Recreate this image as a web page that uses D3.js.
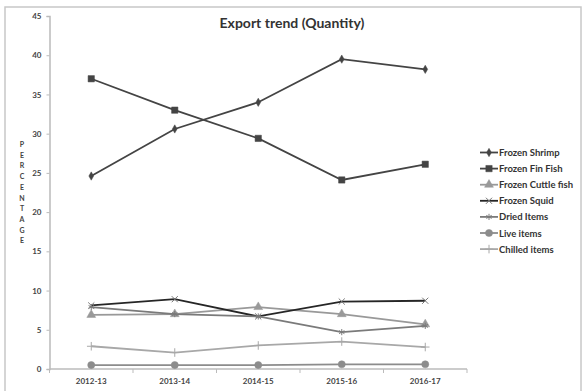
<!DOCTYPE html>
<html>
<head>
<meta charset="utf-8">
<script src="https://cdn.jsdelivr.net/npm/d3@7"></script>
<style>
  html, body { margin: 0; padding: 0; background: #fff; }
  svg { display: block; font-family: Lato, 'Open Sans', sans-serif; }
</style>
</head>
<body>
<div id="chart"></div>
<script>
// Export trend (Quantity) - line chart, percentage share per item by year.

const years = ['2012-13', '2013-14', '2014-15', '2015-16', '2016-17'];
const yTicks = [0, 5, 10, 15, 20, 25, 30, 35, 40, 45];

const frozenShrimp  = [24.6, 30.6, 34.0, 39.5, 38.2];
const frozenFinFish = [37.0, 33.0, 29.4, 24.1, 26.1];
const frozenCuttle  = [6.9, 7.0, 7.9, 7.0, 5.7];
const frozenSquid   = [8.1, 8.9, 6.7, 8.6, 8.7];
const driedItems    = [7.9, 7.0, 6.7, 4.7, 5.5];
const liveItems     = [0.5, 0.5, 0.5, 0.6, 0.6];
const chilledItems  = [2.9, 2.1, 3.0, 3.5, 2.8];

const seriesNames = ['Frozen Shrimp', 'Frozen Fin Fish', 'Frozen Cuttle fish', 'Frozen Squid', 'Dried Items', 'Live items', 'Chilled items'];
const seriesValues = [frozenShrimp, frozenFinFish, frozenCuttle, frozenSquid, driedItems, liveItems, chilledItems];

// styling per series (colour, marker, marker size, filled or stroked marker)
const STYLE = [
  { color: '#444', sym: d3.symbolDiamond,  size: 20, fill: true },
  { color: '#444', sym: d3.symbolSquare,   size: 40, fill: true },
  { color: '#999', sym: d3.symbolTriangle, size: 34, fill: true },
  { color: '#262626', sym: d3.symbolTimes, size: 26, fill: false, mcolor: '#777' },
  { color: '#7a7a7a', sym: d3.symbolAsterisk, size: 26, fill: false },
  { color: '#8c8c8c', sym: d3.symbolCircle, size: 40, fill: true },
  { color: '#a8a8a8', sym: d3.symbolPlus,   size: 26, fill: false },
];

const W = 587, H = 391;
const M = { left: 49.5, top: 16 };
const plotR = 467, plotB = 369;

const svg = d3.select('#chart').append('svg')
  .attr('width', W).attr('height', H);

// outer chart frame
svg.append('rect')
  .attr('x', 5).attr('y', 7).attr('width', 576).attr('height', 390)
  .attr('fill', 'none').attr('stroke', '#c8c8c8').attr('stroke-width', 1.5);

const x = d3.scalePoint().domain(years).range([M.left, plotR]).padding(0.5);
const xBand = d3.scaleBand().domain(years).range([M.left, plotR]);
const y = d3.scaleLinear().domain([0, 45]).range([plotB, M.top]);

// title
svg.append('text')
  .attr('x', 292).attr('y', 28)
  .attr('text-anchor', 'middle')
  .attr('font-size', 14).attr('font-weight', 700).attr('fill', '#333')
  .text('Export trend (Quantity)');

// y axis
svg.append('g')
  .attr('transform', `translate(${M.left},0)`)
  .call(d3.axisLeft(y).tickValues(yTicks).tickSize(3).tickPadding(5))
  .call(ax => ax.select('.domain').attr('stroke', '#bbb').attr('stroke-width', 1.5))
  .call(ax => ax.selectAll('.tick line').attr('stroke', '#bbb'))
  .call(ax => ax.selectAll('.tick text').attr('fill', '#444').attr('font-size', 8)
    .attr('font-weight', 700).attr('font-family', 'Lato, sans-serif'));

// x axis, ticks on category boundaries
const xBounds = years.map(d => xBand(d)).concat([plotR]);
const xg = svg.append('g');
xg.append('line')
  .attr('x1', M.left).attr('x2', plotR).attr('y1', plotB).attr('y2', plotB)
  .attr('stroke', '#bbb').attr('stroke-width', 1.5);
xg.selectAll('.xt').data(xBounds).enter().append('line')
  .attr('x1', d => d).attr('x2', d => d)
  .attr('y1', plotB).attr('y2', plotB + 4)
  .attr('stroke', '#bbb');
xg.selectAll('.xl').data(years).enter().append('text')
  .attr('x', d => x(d)).attr('y', plotB + 15)
  .attr('text-anchor', 'middle')
  .attr('font-size', 8).attr('font-weight', 700).attr('fill', '#444')
  .text(d => d);

// vertical y label
const label = 'PERCENTAGE'.split('');
svg.append('g').selectAll('text').data(label).enter().append('text')
  .attr('x', 22).attr('y', (d, i) => 147 + i * 10.7)
  .attr('text-anchor', 'middle')
  .attr('font-size', 7).attr('font-weight', 700).attr('fill', '#444')
  .text(d => d);

// lines + markers
const line = d3.line()
  .x((d, i) => x(years[i]))
  .y(d => y(d));

function marker(sel, st) {
  const c = st.mcolor || st.color;
  sel.attr('d', d3.symbol().type(st.sym).size(st.size))
    .attr('fill', st.fill ? c : 'none')
    .attr('stroke', c)
    .attr('stroke-width', st.fill ? 0.5 : 1);
}

seriesValues.forEach((vals, k) => {
  const st = STYLE[k];
  svg.append('path')
    .datum(vals)
    .attr('d', line)
    .attr('fill', 'none')
    .attr('stroke', st.color)
    .attr('stroke-width', 1.8);
  svg.append('g').selectAll('path').data(vals).enter().append('path')
    .attr('transform', (d, i) => `translate(${x(years[i])},${y(d)})`)
    .call(marker, st);
});

// legend
const lg = svg.append('g').attr('transform', 'translate(480,152.5)');
seriesNames.forEach((name, k) => {
  const st = STYLE[k];
  const row = lg.append('g').attr('transform', `translate(0,${k * 16.1})`);
  row.append('line')
    .attr('x1', 0).attr('x2', 18).attr('y1', 0).attr('y2', 0)
    .attr('stroke', st.color).attr('stroke-width', 1.8);
  row.append('path')
    .attr('transform', 'translate(9,0)')
    .call(marker, st);
  row.append('text')
    .attr('x', 19).attr('y', 3.5)
    .attr('font-size', 9.5).attr('font-weight', 700).attr('fill', '#333')
    .text(name);
});
</script>
</body>
</html>
